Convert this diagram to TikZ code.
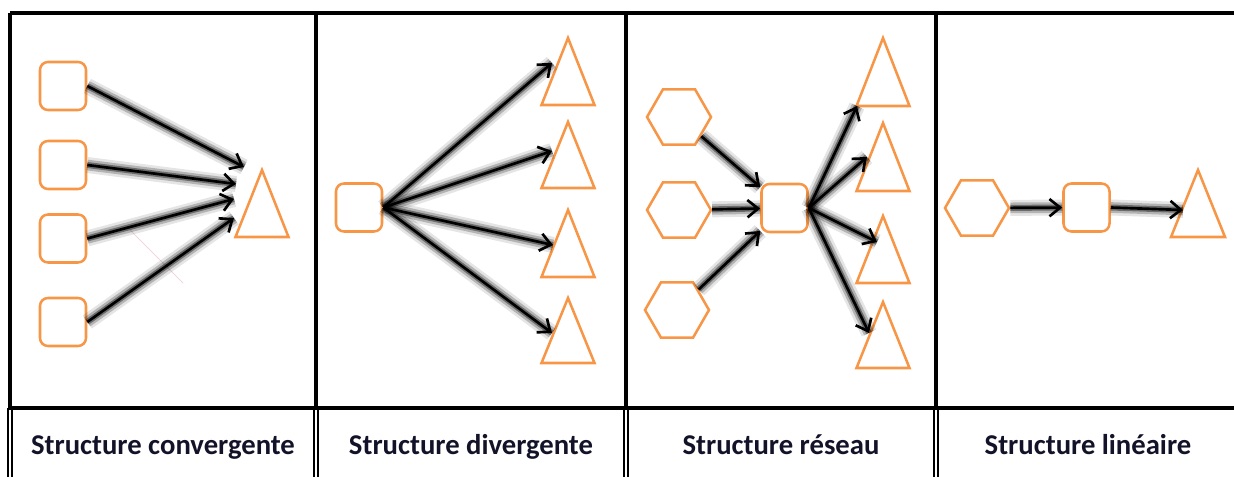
\documentclass[tikz,border=0pt]{standalone}
\usepackage{fontspec}
\setmainfont{Carlito}
\usetikzlibrary{shapes.geometric,arrows.meta}
\definecolor{shporange}{RGB}{247,150,70}
\definecolor{labelnavy}{RGB}{18,18,40}
\definecolor{faintpink}{RGB}{240,215,220}

\tikzset{
	box/.style={draw=shporange, line width=1.9pt, rounded corners=6pt, minimum width=34.5pt, minimum height=36pt, inner sep=0pt},
	hexa/.style={draw=shporange, line width=1.9pt, regular polygon, regular polygon sides=6, minimum size=48pt, inner sep=0pt},
	tri/.style={draw=shporange, line width=1.9pt},
	link/.style={-{Straight Barb[length=8pt,width=13pt]}, line width=2pt,
		preaction={draw=black, opacity=0.10, line width=12pt, -},
		preaction={draw=black, opacity=0.22, line width=8pt, -},
		preaction={draw=black, opacity=0.40, line width=4.5pt, -}},
	rule/.style={line width=2.6pt},
	thinrule/.style={line width=0.8pt},
	caption/.style={font=\bfseries\fontsize{21.5}{24}\selectfont, text=labelnavy, inner sep=0pt, anchor=base}
}

\begin{document}
\begin{tikzpicture}[x=0.75pt,y=0.75pt,yscale=-1,xscale=1]
		\useasboundingbox (0,0) rectangle (1234,477);
		\clip (0,0) rectangle (1234,477);
		
		%Table: upper row
		\draw [rule] (10,13) -- (1240,13) ;
		\draw [rule] (10,13) -- (10,408) ;
		\draw [rule] (316,13) -- (316,408) ;
		\draw [rule] (626,13) -- (626,408) ;
		\draw [rule] (936,13) -- (936,408) ;
		\draw [rule] (8,408) -- (1240,408) ;
		%Table: lower row, double lines
		\draw [thinrule] (8,408) -- (8,480) ;
		\draw [thinrule] (12,408) -- (12,480) ;
		\draw [thinrule] (314,408) -- (314,480) ;
		\draw [thinrule] (318,408) -- (318,480) ;
		\draw [thinrule] (624,408) -- (624,480) ;
		\draw [thinrule] (628,408) -- (628,480) ;
		\draw [thinrule] (934,408) -- (934,480) ;
		\draw [thinrule] (938,408) -- (938,480) ;
		
		%Panel 1: convergente
		\node [box] (q1) at (63,86) {};
		\node [box] (q2) at (63,165) {};
		\node [box] (q3) at (63,238.5) {};
		\node [box] (q4) at (63,322) {};
		\coordinate (t1) at (262,170);
		\draw [tri] (t1) -- ++(26.5,67) -- ++(-53,0) -- cycle ;
		\coordinate (e1) at (244,167);
		\coordinate (e2) at (236,184);
		\coordinate (e3) at (234,199);
		\coordinate (e4) at (234,218);
		\draw [faintpink, line width=0.6pt] (130,230) -- (183,283) ;
		\draw [link] (q1.east) -- (e1) ;
		\draw [link] (q2.east) -- (e2) ;
		\draw [link] (q3.east) -- (e3) ;
		\draw [link] (q4.east) -- (e4) ;
		
		%Panel 2: divergente
		\node [box] (q5) at (359,207.5) {};
		\coordinate (t2) at (568,38);
		\coordinate (t3) at (568,122);
		\coordinate (t4) at (568,210);
		\coordinate (t5) at (568,298);
		\draw [tri] (t2) -- ++(26.5,67) -- ++(-53,0) -- cycle ;
		\draw [tri] (t3) -- ++(26.5,66) -- ++(-53,0) -- cycle ;
		\draw [tri] (t4) -- ++(26.5,67) -- ++(-53,0) -- cycle ;
		\draw [tri] (t5) -- ++(26.5,65) -- ++(-53,0) -- cycle ;
		\coordinate (e5) at (552,63);
		\coordinate (e6) at (552,151);
		\coordinate (e7) at (553,245);
		\coordinate (e8) at (552,333);
		\draw [link] (q5.east) -- (e5) ;
		\draw [link] (q5.east) -- (e6) ;
		\draw [link] (q5.east) -- (e7) ;
		\draw [link] (q5.east) -- (e8) ;
		
		%Panel 3: reseau
		\node [hexa] (h1) at (679,117) {};
		\node [hexa] (h2) at (679,210) {};
		\node [hexa] (h3) at (677,310) {};
		\node [box] (c1) at (784.5,208) {};
		\coordinate (t6) at (883,38);
		\coordinate (t7) at (883,123);
		\coordinate (t8) at (883,216);
		\coordinate (t9) at (883,302);
		\draw [tri] (t6) -- ++(26.5,68) -- ++(-53,0) -- cycle ;
		\draw [tri] (t7) -- ++(26.5,68) -- ++(-53,0) -- cycle ;
		\draw [tri] (t8) -- ++(26.5,67) -- ++(-53,0) -- cycle ;
		\draw [tri] (t9) -- ++(26.5,66) -- ++(-53,0) -- cycle ;
		\coordinate (e9) at (857,106);
		\coordinate (e10) at (867,157);
		\coordinate (e11) at (877,242);
		\coordinate (e12) at (869,333);
		\draw [link] (h1) -- (c1) ;
		\draw [link] (h2) -- (c1) ;
		\draw [link] (h3) -- (c1) ;
		\draw [link] (c1.east) -- (e9) ;
		\draw [link] (c1.east) -- (e10) ;
		\draw [link] (c1.east) -- (e11) ;
		\draw [link] (c1.east) -- (e12) ;
		
		%Panel 4: lineaire
		\node [hexa] (h4) at (977,208) {};
		\node [box] (q6) at (1086.5,207.5) {};
		\coordinate (t10) at (1198,170);
		\draw [tri] (t10) -- ++(27,67) -- ++(-54,0) -- cycle ;
		\coordinate (e13) at (1183,210);
		\draw [link] (h4) -- (q6) ;
		\draw [link] (q6.east) -- (e13) ;
		
		% Text Node
		\node [caption] (c_conv) at (163,454) {Structure convergente};
		% Text Node
		\node [caption] (c_div) at (471,454) {Structure divergente};
		% Text Node
		\node [caption] (c_res) at (781,454) {Structure réseau};
		% Text Node
		\node [caption] (c_lin) at (1088,454) {Structure linéaire};
		
\end{tikzpicture}
\end{document}
